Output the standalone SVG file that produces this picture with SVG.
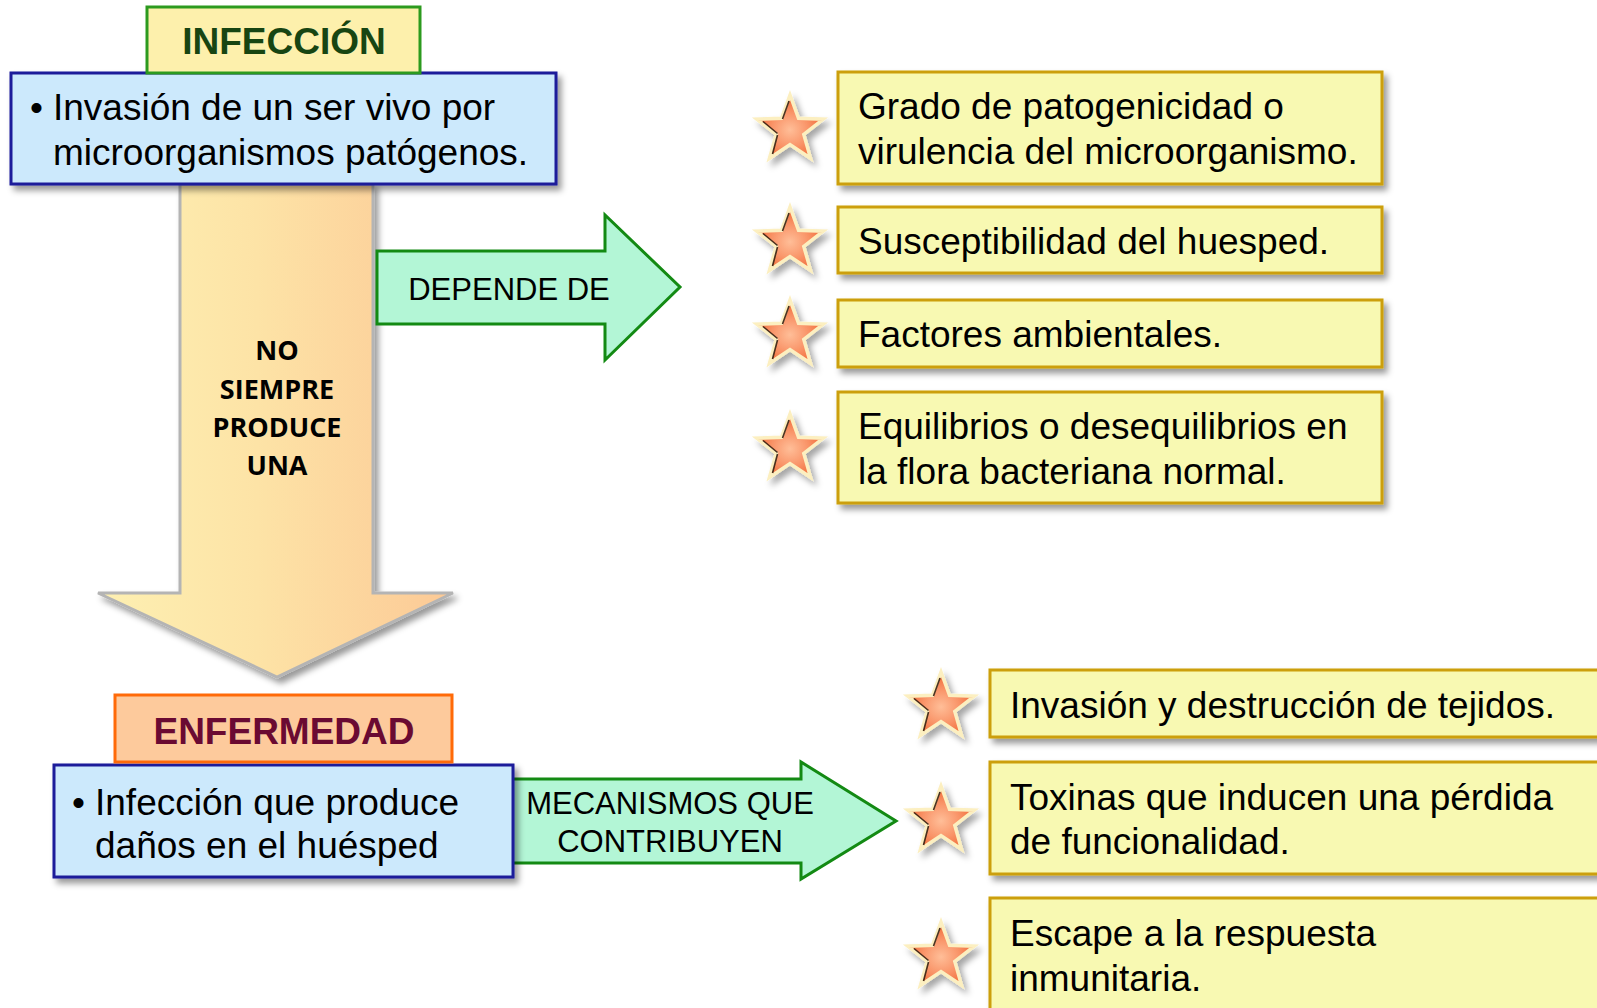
<svg xmlns="http://www.w3.org/2000/svg" width="1597" height="1008" viewBox="0 0 1597 1008">
<defs>
<style>
.t{font-family:"Liberation Sans",Arial,sans-serif;font-size:37px;fill:#000}
.m{font-family:"Liberation Sans",Arial,sans-serif;font-size:31px;fill:#000;text-anchor:middle}
.h{font-family:"Liberation Sans",Arial,sans-serif;font-size:37px;font-weight:bold;text-anchor:middle}
.nb{font-family:"Open Sans","Noto Sans",sans-serif;font-size:27px;font-weight:bold;fill:#000;text-anchor:middle}
.blue{fill:#cce9fc;stroke:#1c1c9a;stroke-width:3}
.yel{fill:#f8f9b2;stroke:#cc9f08;stroke-width:3}
.grn{fill:#b3f6d6;stroke:#138a13;stroke-width:3;stroke-linejoin:miter}
.star{fill:url(#sg);stroke:#fcefc0;stroke-width:3.5;stroke-linejoin:miter}
.bev{fill:none;stroke:#2a1408;stroke-width:1.6;stroke-opacity:0.85}
</style>
<filter id="sh" x="-10%" y="-10%" width="125%" height="135%">
<feDropShadow dx="4" dy="5" stdDeviation="3" flood-color="#000" flood-opacity="0.4"/>
</filter>
<filter id="shs" x="-30%" y="-30%" width="170%" height="170%">
<feDropShadow dx="4" dy="5" stdDeviation="3" flood-color="#000" flood-opacity="0.35"/>
</filter>
<linearGradient id="ag" x1="0" y1="0" x2="1" y2="0">
<stop offset="0" stop-color="#fdf0b2"/>
<stop offset="0.45" stop-color="#fde3a6"/>
<stop offset="1" stop-color="#fcc996"/>
</linearGradient>
<radialGradient id="sg" cx="0.5" cy="0.55" r="0.55">
<stop offset="0" stop-color="#ffbe98"/>
<stop offset="0.5" stop-color="#f99468"/>
<stop offset="1" stop-color="#f06430"/>
</radialGradient>
<path id="st" d="M0,-35 L8.52,-11.73 L33.29,-10.82 L13.79,4.48 L20.57,28.32 L0,14.5 L-20.57,28.32 L-13.79,4.48 L-33.29,-10.82 L-8.52,-11.73 Z"/>
<g id="star">
<use href="#st" class="star"/>
<path class="bev" d="M-1,-29 L-7.5,-11 M-27,-8.5 L-12.5,3.5 M-12.5,5 L-17.5,24"/>
</g>
</defs>
<rect width="1597" height="1008" fill="#fff"/>

<g id="connectors">
<path id="arrow-down" d="M180,184 L373,184 L373,593 L453,593 L277,677 L98,593 L180,593 Z" fill="url(#ag)" stroke="#b4b4b4" stroke-width="3" filter="url(#sh)"/>
<path id="arrow-depende" class="grn" d="M377,251 L605,251 L605,215 L680,287 L605,360 L605,324 L377,324 Z"/>
<path id="arrow-mecanismos" class="grn" d="M500,779 L801,779 L801,762 L896,821 L801,879 L801,863 L500,863 Z"/>
</g>

<g id="label-no-siempre">
<text class="nb" x="277" y="360">NO</text>
<text class="nb" x="277" y="399">SIEMPRE</text>
<text class="nb" x="277" y="437">PRODUCE</text>
<text class="nb" x="277" y="475">UNA</text>
</g>
<g id="label-depende"><text class="m" x="509" y="300">DEPENDE DE</text></g>
<g id="label-mecanismos">
<text class="m" x="670" y="814">MECANISMOS QUE</text>
<text class="m" x="670" y="852">CONTRIBUYEN</text>
</g>

<g id="infeccion-def">
<rect class="blue" x="11" y="73" width="545" height="111" filter="url(#sh)"/>
<text class="t" x="30" y="120">•</text>
<text class="t" x="53" y="120">Invasión de un ser vivo por</text>
<text class="t" x="53" y="165">microorganismos patógenos.</text>
</g>
<g id="infeccion">
<rect x="147" y="7" width="273" height="66" fill="#fdf0ac" stroke="#2c9a1e" stroke-width="3"/>
<text class="h" x="284" y="54" fill="#174512">INFECCIÓN</text>
</g>

<g id="enfermedad-def">
<rect class="blue" x="54" y="765" width="459" height="112" filter="url(#sh)"/>
<text class="t" x="72" y="815">•</text>
<text class="t" x="95" y="815">Infección que produce</text>
<text class="t" x="95" y="858">daños en el huésped</text>
</g>
<g id="enfermedad">
<rect x="115" y="695" width="337" height="67" fill="#fdca9c" stroke="#ff6a08" stroke-width="3"/>
<text class="h" x="284" y="744" fill="#6a0a32">ENFERMEDAD</text>
</g>

<g id="factor-1">
<use href="#star" x="790" y="130" filter="url(#shs)"/>
<rect class="yel" x="838" y="72" width="544" height="112" filter="url(#sh)"/>
<text class="t" x="858" y="119">Grado de patogenicidad o</text>
<text class="t" x="858" y="164">virulencia del microorganismo.</text>
</g>
<g id="factor-2">
<use href="#star" x="790" y="242" filter="url(#shs)"/>
<rect class="yel" x="838" y="207" width="544" height="66" filter="url(#sh)"/>
<text class="t" x="858" y="254">Susceptibilidad del huesped.</text>
</g>
<g id="factor-3">
<use href="#star" x="790" y="335" filter="url(#shs)"/>
<rect class="yel" x="838" y="300" width="544" height="67" filter="url(#sh)"/>
<text class="t" x="858" y="347">Factores ambientales.</text>
</g>
<g id="factor-4">
<use href="#star" x="790" y="449" filter="url(#shs)"/>
<rect class="yel" x="838" y="392" width="544" height="111" filter="url(#sh)"/>
<text class="t" x="858" y="439">Equilibrios o desequilibrios en</text>
<text class="t" x="858" y="484">la flora bacteriana normal.</text>
</g>

<g id="mecanismo-1">
<use href="#star" x="941" y="707" filter="url(#shs)"/>
<rect class="yel" x="990" y="670" width="640" height="67" filter="url(#sh)"/>
<text class="t" x="1010" y="718">Invasión y destrucción de tejidos.</text>
</g>
<g id="mecanismo-2">
<use href="#star" x="941" y="821" filter="url(#shs)"/>
<rect class="yel" x="990" y="762" width="640" height="112" filter="url(#sh)"/>
<text class="t" x="1010" y="810">Toxinas que inducen una pérdida</text>
<text class="t" x="1010" y="854">de funcionalidad.</text>
</g>
<g id="mecanismo-3">
<use href="#star" x="941" y="957" filter="url(#shs)"/>
<rect class="yel" x="990" y="898" width="640" height="130" filter="url(#sh)"/>
<text class="t" x="1010" y="946">Escape a la respuesta</text>
<text class="t" x="1010" y="991">inmunitaria.</text>
</g>
</svg>
